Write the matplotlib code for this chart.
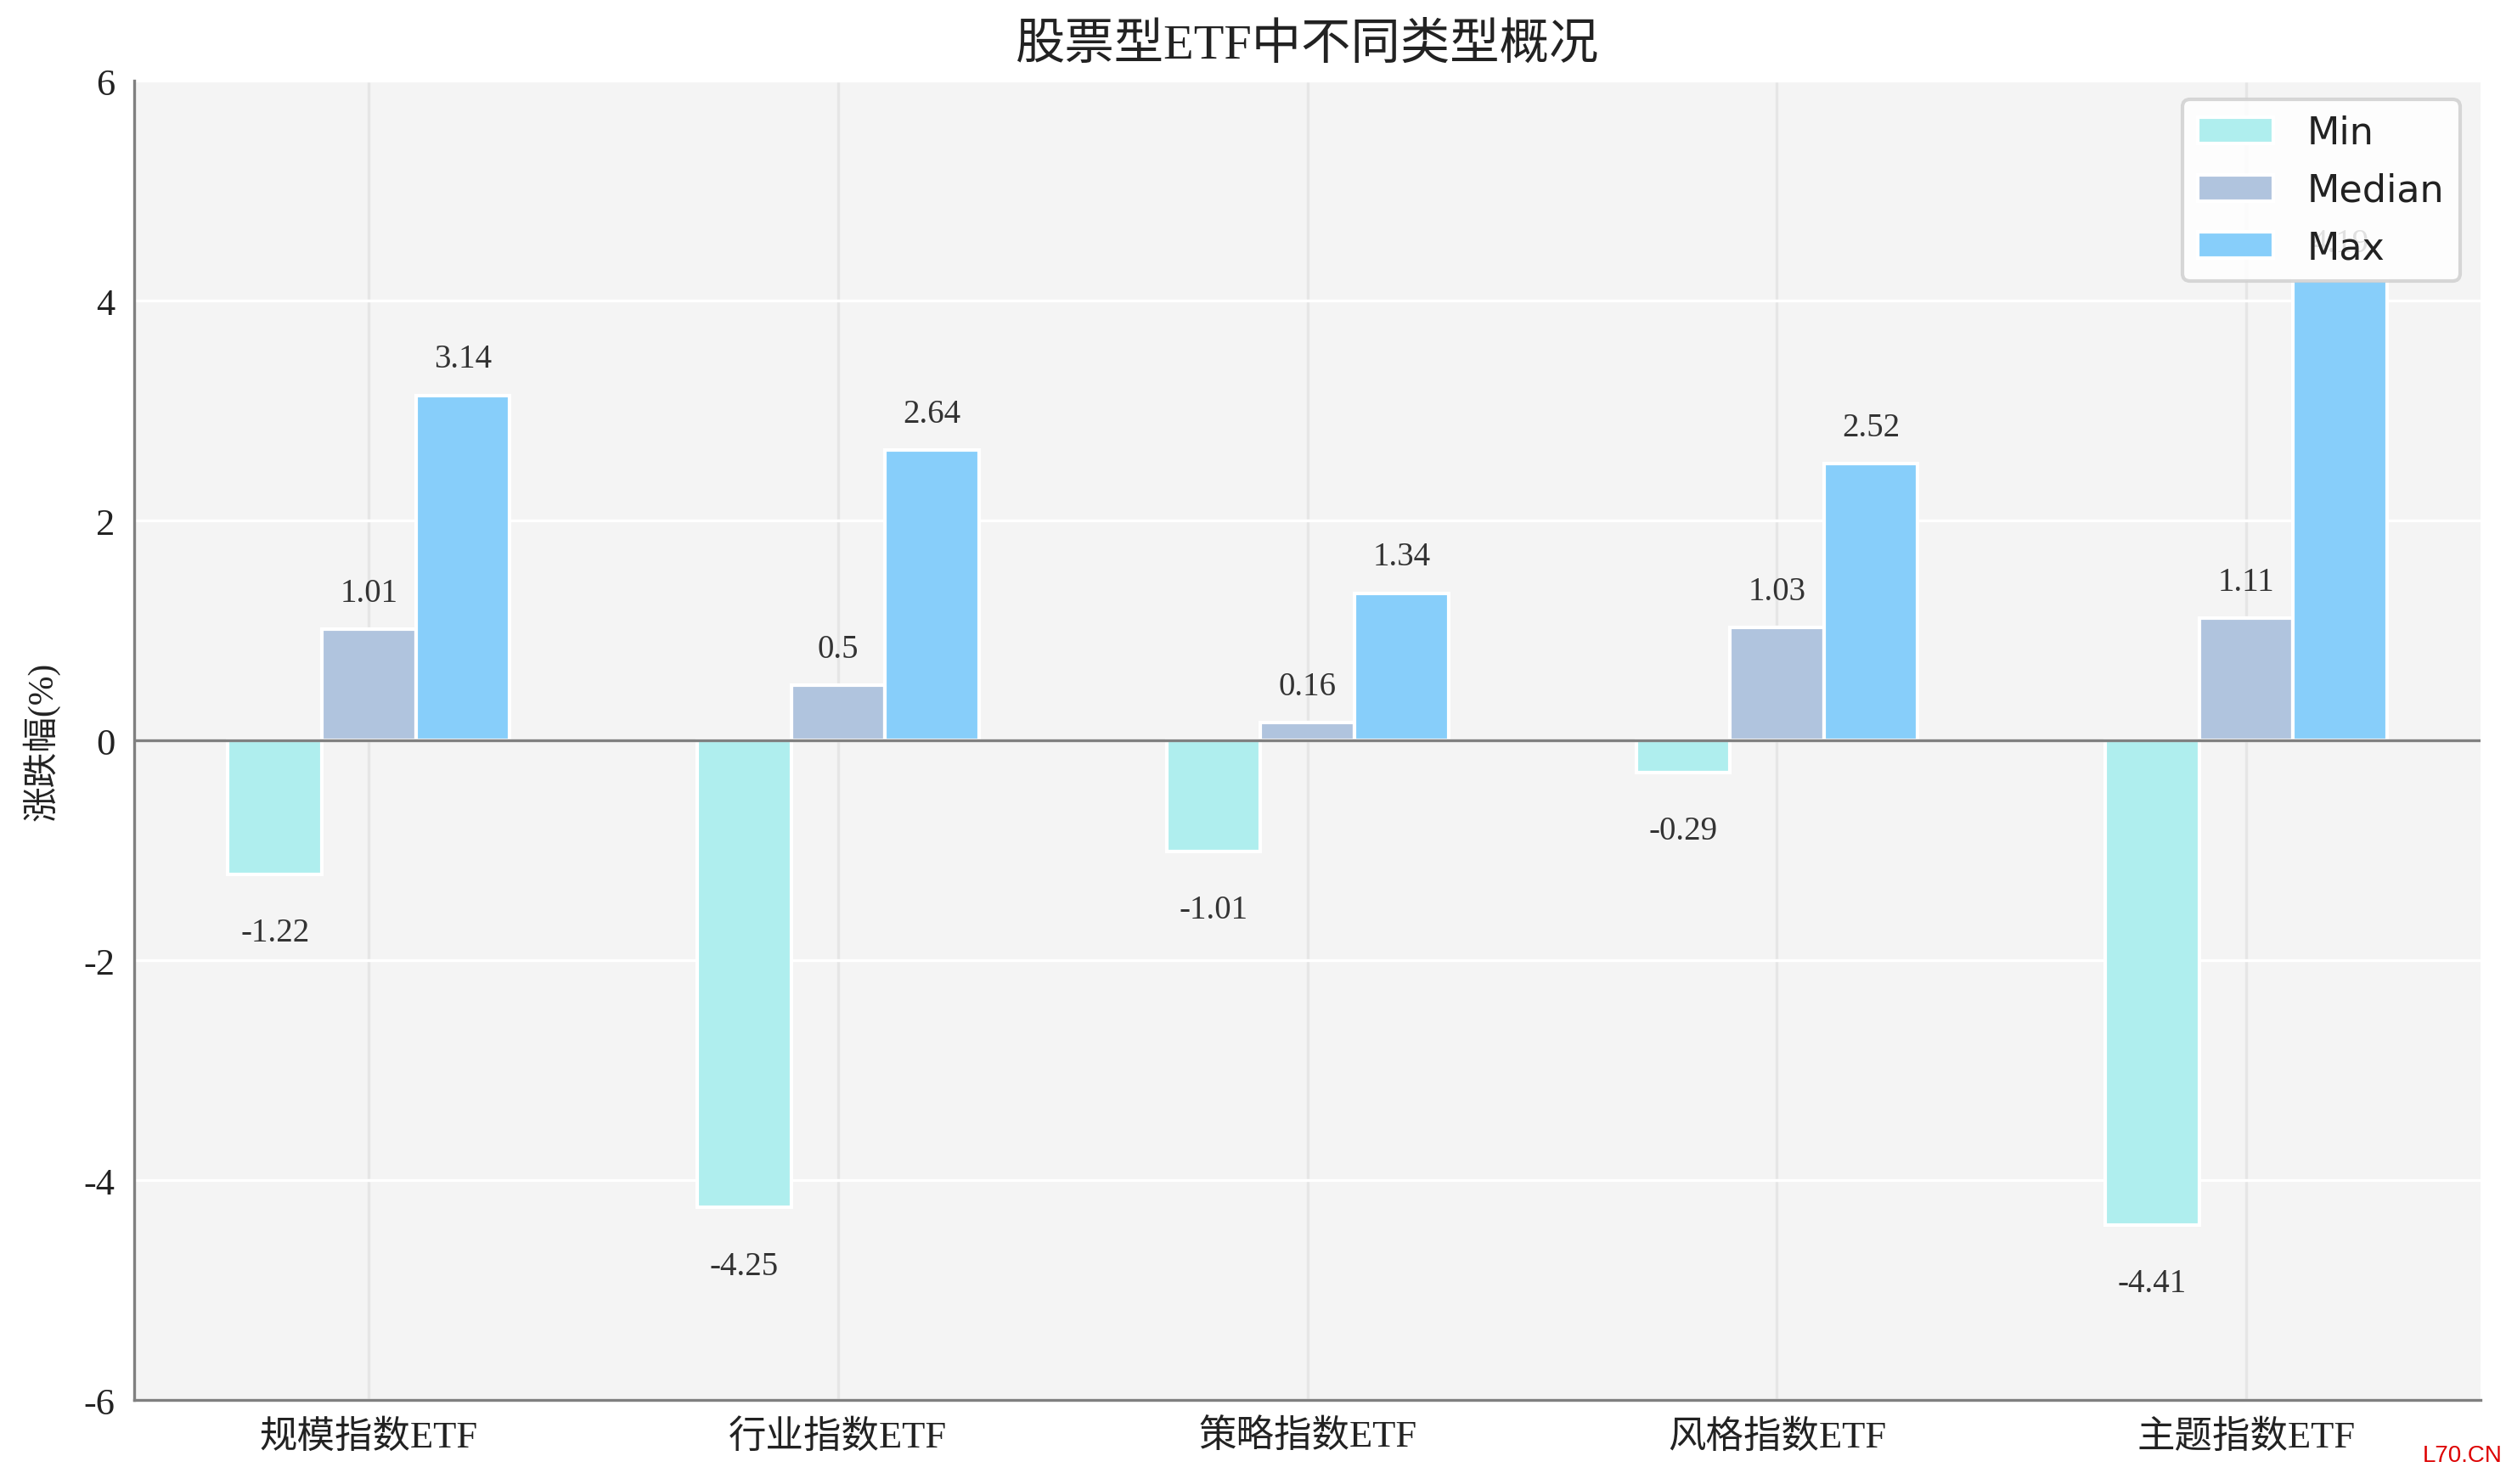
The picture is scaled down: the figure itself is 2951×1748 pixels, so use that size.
import matplotlib
matplotlib.use('Agg')
import matplotlib.pyplot as plt
import numpy as np

categories = ['规模指数ETF', '行业指数ETF', '策略指数ETF', '风格指数ETF', '主题指数ETF']
min_vals = [-1.22, -4.25, -1.01, -0.29, -4.41]
median_vals = [1.01, 0.5, 0.16, 1.03, 1.11]
max_vals = [3.14, 2.64, 1.34, 2.52, 4.19]
series_names = ['Min', 'Median', 'Max']
colors = ['#afeeee', '#b0c4de', '#87cefa']

serif = ['Liberation Serif', 'Noto Sans CJK SC']

fig = plt.figure(figsize=(14.755, 8.745), dpi=200)
ax = fig.add_axes([0.0535, 0.0566, 0.9365, 0.8884])
ax.set_facecolor('#f4f4f4')

x = np.arange(len(categories))
width = 0.2
series = [min_vals, median_vals, max_vals]

for i, vals in enumerate(series):
    pos = x + (i - 1) * width
    ax.bar(pos, vals, width, color=colors[i], edgecolor='white',
           linewidth=1.5, label=series_names[i], zorder=3)
    for p, v in zip(pos, vals):
        if v >= 0:
            ty = v + 0.33
        else:
            ty = v - 0.53
        ax.text(p, ty, str(v), ha='center', va='center', fontsize=14,
                family=serif, color='#333333', zorder=4)

ax.axhline(0, color='#808080', linewidth=1.2, zorder=3.5)

ax.set_xlim(-0.5, len(categories) - 0.5)
ax.set_ylim(-6, 6)
ax.set_yticks([-6, -4, -2, 0, 2, 4, 6])
ax.set_yticklabels(['-6', '-4', '-2', '0', '2', '4', '6'], family=serif,
                   fontsize=16, color='#222222')
ax.set_xticks(x)
ax.set_xticklabels(categories, family=serif, fontsize=16, color='#222222')
ax.tick_params(length=0, pad=8)

ax.yaxis.grid(True, color='white', linewidth=1.2, zorder=0)
ax.xaxis.grid(True, color='#e6e6e6', linewidth=1.2, zorder=0)
ax.set_axisbelow(True)

for s in ['top', 'right']:
    ax.spines[s].set_visible(False)
for s in ['left', 'bottom']:
    ax.spines[s].set_color('#808080')
    ax.spines[s].set_linewidth(1.2)

ax.set_ylabel('涨跌幅(%)', family=serif, fontsize=15, color='#222222',
              labelpad=10)
ax.set_title('股票型ETF中不同类型概况', family=serif, fontsize=21,
             color='#222222', pad=10)

leg = ax.legend(loc='upper right', fontsize=16, handletextpad=0.9,
                labelspacing=0.55, bbox_to_anchor=(0.999, 1.0),
                fancybox=True, edgecolor='#d0d0d0', facecolor='white',
                framealpha=0.85)
leg.set_zorder(10)
leg.get_frame().set_linewidth(1.5)
for t in leg.get_texts():
    t.set_color('#222222')

fig.text(0.9985, 0.012, 'L70.CN', color='#dd0000', fontsize=10,
         family='Liberation Sans', ha='right', va='bottom')

fig.savefig('out.png', dpi=200)
